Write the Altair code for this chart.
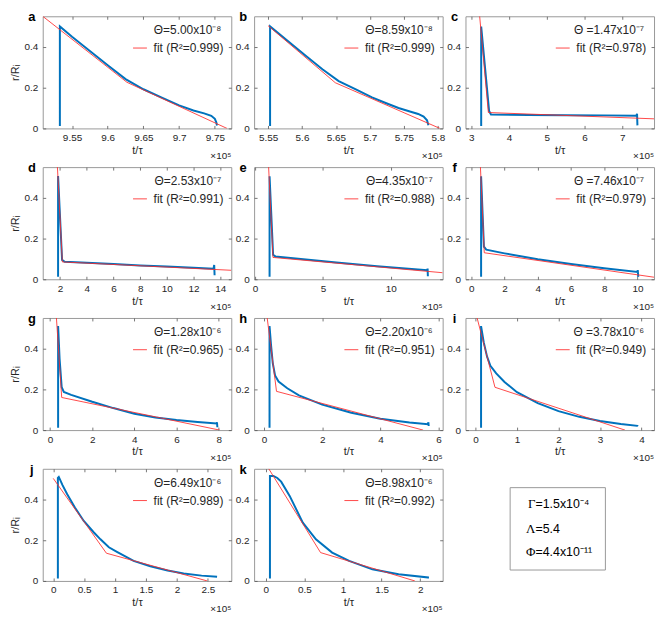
import altair as alt
import pandas as pd

W, H = 190, 113
BLUE = "#0072BD"
RED = "#FF2A2A"
FONT = "Liberation Sans"
TXT = "#262626"

# ---------------- data (t/tau in units of 1e5, r/R_i) ----------------
a_t = [9.533, 9.533, 9.55, 9.575, 9.60, 9.625, 9.65, 9.675, 9.70, 9.72, 9.735, 9.745, 9.75, 9.752, 9.753]
a_r = [0.012, 0.50, 0.45, 0.38, 0.31, 0.242, 0.192, 0.152, 0.113, 0.088, 0.074, 0.062, 0.047, 0.030, 0.014]
a_fit_t = [9.509, 9.627, 9.767]
a_fit_r = [0.55, 0.226, 0.0]

b_t = [5.553, 5.553, 5.58, 5.605, 5.63, 5.654, 5.68, 5.703, 5.725, 5.742, 5.76, 5.771, 5.779, 5.784, 5.786]
b_r = [0.012, 0.50, 0.426, 0.358, 0.29, 0.232, 0.19, 0.152, 0.122, 0.100, 0.082, 0.071, 0.058, 0.040, 0.015]
b_fit_t = [5.55, 5.649, 5.803]
b_fit_r = [0.504, 0.224, 0.0]

c_t = [3.26, 3.26, 3.47, 3.52, 4.5, 5.5, 6.5, 7.37, 7.39, 7.40]
c_r = [0.012, 0.50, 0.085, 0.068, 0.066, 0.065, 0.064, 0.062, 0.072, 0.015]
c_fit_t = [3.22, 3.45, 7.84]
c_fit_r = [0.55, 0.078, 0.047]

d_t = [1.85, 1.85, 2.15, 2.35, 4, 6, 8, 10, 12, 13.5, 13.55, 13.58]
d_r = [0.012, 0.506, 0.095, 0.086, 0.081, 0.075, 0.068, 0.062, 0.056, 0.052, 0.07, 0.02]
d_fit_t = [1.80, 2.17, 14.83]
d_fit_r = [0.55, 0.085, 0.044]

e_t = [1.07, 1.07, 1.33, 1.5, 3, 6, 9, 12.7, 12.72, 12.74]
e_r = [0.012, 0.505, 0.12, 0.112, 0.102, 0.082, 0.064, 0.044, 0.052, 0.015]
e_fit_t = [1.0, 1.32, 13.83]
e_fit_r = [0.55, 0.107, 0.032]

f_t = [0.59, 0.59, 0.76, 0.9, 2, 4, 6, 8, 10.0, 10.02, 10.05]
f_r = [0.012, 0.505, 0.16, 0.145, 0.127, 0.098, 0.075, 0.054, 0.036, 0.045, 0.012]
f_fit_t = [0.55, 0.78, 11.0]
f_fit_r = [0.55, 0.13, 0.01]

g_t = [0.38, 0.38, 0.45, 0.55, 0.65, 1, 2, 3, 4, 5, 6, 7, 7.9, 7.92, 7.94]
g_r = [0.012, 0.51, 0.35, 0.21, 0.187, 0.173, 0.139, 0.108, 0.08, 0.062, 0.049, 0.04, 0.033, 0.038, 0.014]
g_fit_t = [0.30, 0.55, 8.05]
g_fit_r = [0.55, 0.16, 0.0]

h_t = [0.19, 0.19, 0.24, 0.30, 0.38, 0.5, 0.8, 1.2, 2.0, 3.0, 4.0, 5.0, 5.63, 5.65, 5.66]
h_r = [0.012, 0.51, 0.42, 0.33, 0.268, 0.238, 0.205, 0.170, 0.125, 0.085, 0.056, 0.037, 0.029, 0.038, 0.02]
h_fit_t = [0.11, 0.43, 5.47]
h_fit_r = [0.55, 0.19, 0.0]

i_t = [0.135, 0.135, 0.2, 0.28, 0.36, 0.5, 0.7, 1.0, 1.5, 2.0, 2.5, 3.0, 3.5, 3.9, 3.91]
i_r = [0.012, 0.51, 0.43, 0.36, 0.315, 0.278, 0.236, 0.186, 0.132, 0.093, 0.065, 0.045, 0.030, 0.021, 0.018]
i_fit_t = [0.04, 0.47, 3.6]
i_fit_r = [0.55, 0.21, 0.0]

j_t = [0.075, 0.075, 0.09, 0.15, 0.226, 0.35, 0.494, 0.65, 0.764, 0.9, 1.03, 1.3, 1.57, 1.85, 2.11, 2.4, 2.65]
j_r = [0.012, 0.505, 0.51, 0.47, 0.425, 0.36, 0.294, 0.24, 0.204, 0.165, 0.143, 0.098, 0.072, 0.051, 0.036, 0.026, 0.02]
j_fit_t = [0.0, 0.86, 2.49]
j_fit_r = [0.503, 0.136, 0.0]

k_t = [0.055, 0.055, 0.1, 0.15, 0.2, 0.31, 0.48, 0.65, 0.86, 1.08, 1.38, 1.72, 2.1, 2.1]
k_r = [0.012, 0.515, 0.515, 0.505, 0.487, 0.417, 0.286, 0.204, 0.139, 0.098, 0.057, 0.033, 0.017, 0.012]
k_fit_t = [0.04, 0.71, 1.93]
k_fit_r = [0.55, 0.139, 0.0]

x_domains = {
    "a": [9.509, 9.773], "b": [5.5295, 5.807], "c": [2.844, 7.84],
    "d": [0.70, 14.83], "e": [-0.07, 13.83], "f": [-0.35, 11.0],
    "g": [-0.35, 8.6], "h": [-0.34, 6.14], "i": [-0.24, 4.3],
    "j": [-0.17, 2.88], "k": [-0.15, 2.29],
}
x_ticks = {
    "a": [9.55, 9.6, 9.65, 9.7, 9.75], "b": [5.55, 5.6, 5.65, 5.7, 5.75, 5.8],
    "c": [3, 4, 5, 6, 7], "d": [2, 4, 6, 8, 10, 12, 14], "e": [0, 5, 10],
    "f": [0, 2, 4, 6, 8, 10], "g": [0, 2, 4, 6, 8], "h": [0, 2, 4, 6],
    "i": [0, 1, 2, 3, 4], "j": [0, 0.5, 1, 1.5, 2, 2.5], "k": [0, 0.5, 1, 1.5, 2],
}
y_ticks = [0, 0.2, 0.4]
theta_labels = {
    "a": "Θ=5.00x10⁻⁸", "b": "Θ=8.59x10⁻⁸", "c": "Θ =1.47x10⁻⁷",
    "d": "Θ=2.53x10⁻⁷", "e": "Θ=4.35x10⁻⁷", "f": "Θ =7.46x10⁻⁷",
    "g": "Θ=1.28x10⁻⁶", "h": "Θ=2.20x10⁻⁶", "i": "Θ =3.78x10⁻⁶",
    "j": "Θ=6.49x10⁻⁶", "k": "Θ=8.98x10⁻⁶",
}
r2_labels = {
    "a": "0.999", "b": "0.999", "c": "0.978", "d": "0.991", "e": "0.988", "f": "0.979",
    "g": "0.965", "h": "0.951", "i": "0.949", "j": "0.989", "k": "0.992",
}
series = {
    "a": (a_t, a_r, a_fit_t, a_fit_r), "b": (b_t, b_r, b_fit_t, b_fit_r),
    "c": (c_t, c_r, c_fit_t, c_fit_r), "d": (d_t, d_r, d_fit_t, d_fit_r),
    "e": (e_t, e_r, e_fit_t, e_fit_r), "f": (f_t, f_r, f_fit_t, f_fit_r),
    "g": (g_t, g_r, g_fit_t, g_fit_r), "h": (h_t, h_r, h_fit_t, h_fit_r),
    "i": (i_t, i_r, i_fit_t, i_fit_r), "j": (j_t, j_r, j_fit_t, j_fit_r),
    "k": (k_t, k_r, k_fit_t, k_fit_r),
}
params_text = [("Γ", "=1.5x10⁻⁴"), ("Λ", "=5.4"), ("Φ", "=4.4x10⁻¹¹")]


def one():
    return pd.DataFrame({"v": [0]})


def make_panel(letter, left):
    t, r, ft, fr = series[letter]
    d = pd.DataFrame({"t": t, "r": r, "i": list(range(len(t)))})
    f = pd.DataFrame({"t": ft, "r": fr, "i": list(range(len(ft)))})
    xs = alt.Scale(domain=x_domains[letter], nice=False, zero=False)
    ys = alt.Scale(domain=[0, 0.55], nice=False, zero=False)
    xt = x_ticks[letter]

    main_x = alt.Axis(orient="bottom", values=xt, format="~r", ticks=False, domain=False,
                      grid=False, labelPadding=4, labelFlush=False, labelOverlap=False,
                      title="t/τ", titlePadding=2)
    if left:
        main_y = alt.Axis(orient="left", values=y_ticks, format="~r", ticks=False, domain=False,
                          grid=False, labelPadding=5, labelOverlap=False,
                          title="r/Rᵢ", titlePadding=4)
    else:
        main_y = alt.Axis(orient="left", values=y_ticks, format="~r", ticks=False, domain=False,
                          grid=False, labelPadding=5, labelOverlap=False, title=None)

    tk = dict(labels=False, domain=False, grid=False, ticks=True, tickSize=3, title=None)
    x_up = alt.Axis(orient="top", offset=-H, values=xt, **tk)
    x_down = alt.Axis(orient="bottom", offset=-H, values=xt, **tk)
    y_right = alt.Axis(orient="right", offset=-W, values=y_ticks, **tk)
    y_left = alt.Axis(orient="left", offset=-W, values=y_ticks, **tk)

    blue = alt.Chart(d).mark_line(color=BLUE, strokeWidth=2, clip=True).encode(
        x=alt.X("t:Q", scale=xs, axis=main_x),
        y=alt.Y("r:Q", scale=ys, axis=main_y),
        order="i:Q",
    )
    red = alt.Chart(f).mark_line(color=RED, strokeWidth=1, opacity=0.85, clip=True).encode(
        x=alt.X("t:Q", scale=xs, axis=x_up),
        y=alt.Y("r:Q", scale=ys, axis=y_right),
        order="i:Q",
    )
    ghost = alt.Chart(f).mark_point(opacity=0).encode(
        x=alt.X("t:Q", scale=xs, axis=x_down),
        y=alt.Y("r:Q", scale=ys, axis=y_left),
    )
    theta_txt = alt.Chart(one()).mark_text(align="right", baseline="middle", fontSize=12,
                                           font=FONT, color=TXT).encode(
        x=alt.value(W - 10), y=alt.value(14), text=alt.value(theta_labels[letter]))
    fit_txt = alt.Chart(one()).mark_text(align="right", baseline="middle", fontSize=12,
                                         font=FONT, color=TXT).encode(
        x=alt.value(W - 8), y=alt.value(32), text=alt.value("fit (R²=" + r2_labels[letter] + ")"))
    sample = alt.Chart(one()).mark_rule(color=RED, strokeWidth=1, opacity=0.85).encode(
        x=alt.value(W - 99), x2=alt.value(W - 85), y=alt.value(32))
    exp_txt = alt.Chart(one()).mark_text(align="right", baseline="alphabetic", fontSize=10,
                                         font=FONT, color=TXT).encode(
        x=alt.value(W), y=alt.value(H + 31), text=alt.value("×10⁵"))
    letter_txt = alt.Chart(one()).mark_text(align="center", baseline="alphabetic", fontSize=13,
                                            fontWeight="bold", font=FONT, color="#000").encode(
        x=alt.value(-11), y=alt.value(5), text=alt.value(letter))

    return alt.layer(blue, red, ghost, theta_txt, fit_txt, sample, exp_txt, letter_txt).resolve_axis(
        x="independent", y="independent").properties(width=W, height=H)


def make_box():
    rect = alt.Chart(one()).mark_rect(fill="white", stroke="#999999", strokeWidth=1).encode(
        x=alt.value(45), x2=alt.value(141), y=alt.value(19), y2=alt.value(102))
    layers = [rect]
    ys_pos = [36, 61, 84]
    for (g, rest), yy in zip(params_text, ys_pos):
        layers.append(alt.Chart(one()).mark_text(align="right", baseline="middle", fontSize=13,
                                                 font="Liberation Serif", color="#000").encode(
            x=alt.value(70.5), y=alt.value(yy), text=alt.value(g)))
        layers.append(alt.Chart(one()).mark_text(align="left", baseline="middle", fontSize=12.5,
                                                 font=FONT, color="#000").encode(
            x=alt.value(70.5), y=alt.value(yy), text=alt.value(rest)))
    return alt.layer(*layers).properties(width=W, height=H,
                                         view=alt.ViewBackground(stroke="transparent"))


letters = ["a", "b", "c", "d", "e", "f", "g", "h", "i", "j", "k"]
panels = [make_panel(l, idx % 3 == 0) for idx, l in enumerate(letters)]
panels.append(make_box())

chart = alt.concat(*panels, columns=3, spacing=alt.RowColnumber(row=39, column=23),
                   bounds="flush").properties(padding=0).configure_axis(
    labelFont=FONT, labelFontSize=10, labelColor=TXT, titleFont=FONT, titleFontSize=11,
    titleColor=TXT, titleFontWeight="normal", tickColor="#555555", tickWidth=0.8,
).configure_view(stroke="#999999", strokeWidth=1)

chart.save("out.html", embed_options={"renderer": "svg", "actions": False})
